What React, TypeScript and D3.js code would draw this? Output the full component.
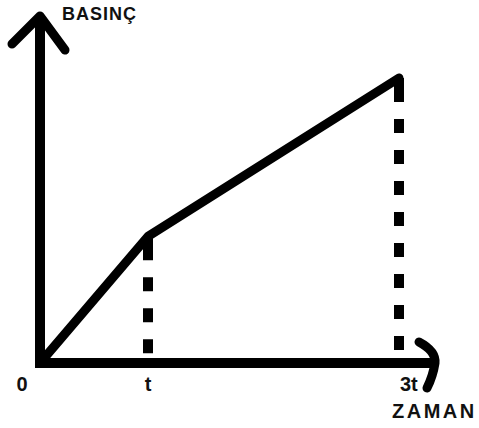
import React, { useEffect, useRef } from 'react';
import * as d3 from 'd3';

// zaman (t cinsinden) ve basınç değerleri
const times = [0, 1, 3];
const pressures = [0, 2, 4.5];
const timeLabels = ['0', 't', '3t'];
const yTitle = 'BASINÇ';
const xTitle = 'ZAMAN';

export default function App() {
  const svgRef = useRef<SVGSVGElement>(null);
  const width = 479;
  const height = 428;

  useEffect(() => {
    const svg = d3.select(svgRef.current);
    svg.selectAll('*').remove();

    const x0 = 40;
    const y0 = 363;

    // Escalas (el çizimi gibi orantısız x ekseni)
    const xScale = d3.scaleLinear()
      .domain(times)
      .range([x0, x0 + 108, x0 + 359]);

    const yScale = d3.scaleLinear()
      .domain([0, d3.max(pressures) as number])
      .range([y0, 78]);

    const data = times.map((t, i) => ({ t, p: pressures[i], label: timeLabels[i] }));

    // Ejes
    svg.append('line')
      .attr('x1', x0).attr('y1', y0 + 5)
      .attr('x2', x0).attr('y2', 16)
      .attr('stroke', '#000').attr('stroke-width', 10);

    svg.append('line')
      .attr('x1', x0 - 4).attr('y1', y0)
      .attr('x2', 437).attr('y2', y0)
      .attr('stroke', '#000').attr('stroke-width', 10);

    // y ok başı
    svg.append('path')
      .attr('d', `M12,44 L${x0},16 L65,50`)
      .attr('fill', 'none')
      .attr('stroke', '#000')
      .attr('stroke-width', 9)
      .attr('stroke-linecap', 'round')
      .attr('stroke-linejoin', 'round');

    // x ok başı (kıvrık)
    svg.append('path')
      .attr('d', 'M419,342 Q436,351 435,363 Q433,376 427,388')
      .attr('fill', 'none')
      .attr('stroke', '#000')
      .attr('stroke-width', 9)
      .attr('stroke-linecap', 'round');

    // kesikli dikey çizgiler
    const dash = [24, 17, ...d3.range(12).flatMap(() => [14, 17])].join(' ');
    svg.selectAll('line.guide')
      .data(data.filter(d => d.t > 0))
      .enter()
      .append('line')
      .attr('class', 'guide')
      .attr('x1', d => xScale(d.t))
      .attr('x2', d => xScale(d.t))
      .attr('y1', d => yScale(d.p))
      .attr('y2', y0)
      .attr('stroke', '#000')
      .attr('stroke-width', 10)
      .attr('stroke-dasharray', dash);

    // basınç-zaman çizgisi
    const line = d3.line<{ t: number; p: number }>()
      .x(d => xScale(d.t))
      .y(d => yScale(d.p));

    svg.append('path')
      .datum(data)
      .attr('d', line)
      .attr('fill', 'none')
      .attr('stroke', '#000')
      .attr('stroke-width', 9)
      .attr('stroke-linecap', 'round')
      .attr('stroke-linejoin', 'round');

    // Etiquetas
    const font = "'Liberation Sans', Arial, sans-serif";
    svg.selectAll('text.tick')
      .data(data)
      .enter()
      .append('text')
      .attr('class', 'tick')
      .attr('x', d => (d.t === 0 ? 22 : xScale(d.t) + (d.t === 3 ? 1 : 0)))
      .attr('y', 391)
      .attr('text-anchor', d => (d.t === 3 ? 'start' : 'middle'))
      .attr('font-family', font)
      .attr('font-weight', 'bold')
      .attr('font-size', 20)
      .attr('fill', '#111')
      .text(d => d.label);

    svg.append('text')
      .attr('x', 62).attr('y', 20)
      .attr('font-family', font)
      .attr('font-weight', 'bold')
      .attr('font-size', 18)
      .attr('letter-spacing', 1)
      .attr('fill', '#111')
      .text(yTitle);

    svg.append('text')
      .attr('x', 392).attr('y', 418)
      .attr('font-family', font)
      .attr('font-weight', 'bold')
      .attr('font-size', 20)
      .attr('letter-spacing', 2.5)
      .attr('fill', '#111')
      .text(xTitle);
  }, []);

  return (
    <svg
      ref={svgRef}
      width={width}
      height={height}
      style={{ position: 'absolute', left: 0, top: 0, background: '#fff' }}
    ></svg>
  );
}
